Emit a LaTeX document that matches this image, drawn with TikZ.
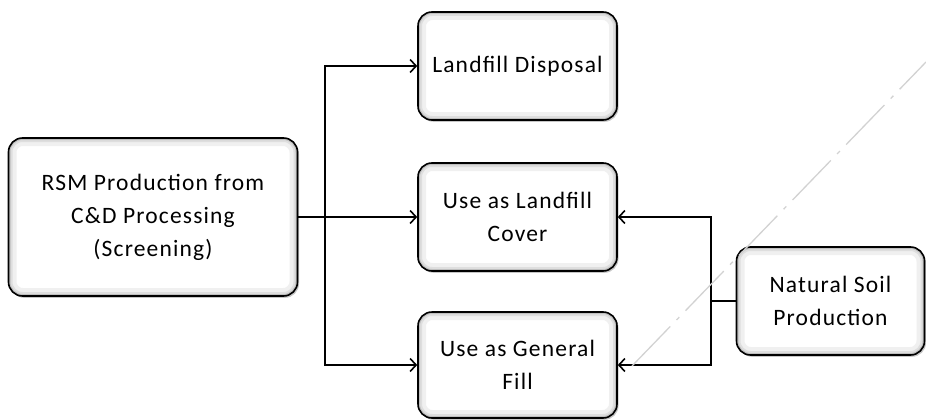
\documentclass[tikz,border=0pt]{standalone}
\usepackage{fontspec}
\setmainfont{Carlito}[LetterSpace=5]
\usetikzlibrary{arrows.meta,shadows}
\begin{document}
\begin{tikzpicture}[x=1pt,y=-1pt,
  box/.style={draw, line width=1.6pt, rounded corners=14pt, fill=white,
    align=center, inner sep=2pt,
    font=\fontsize{23.5}{33}\selectfont,
    drop shadow={shadow xshift=1.5pt, shadow yshift=-1.8pt, opacity=0.45},
    path picture={
      \draw[black!6, line width=16pt, rounded corners=14pt] (path picture bounding box.south west) rectangle (path picture bounding box.north east);
      \draw[black!13, line width=8pt, rounded corners=14pt] (path picture bounding box.south west) rectangle (path picture bounding box.north east);
      \draw[black!25, line width=4pt, rounded corners=14pt] (path picture bounding box.south west) rectangle (path picture bounding box.north east);
    }},
  conn/.style={line width=1.6pt},
  arr/.style={line width=1.6pt, -{Straight Barb[length=6pt,width=13pt,line width=1.6pt]}}]
\useasboundingbox (0,0) rectangle (926,420);
\node[box, minimum width=289pt, minimum height=158pt] (rsm) at (153,217) {RSM Production from\\C\&D Processing\\(Screening)};
\node[box, minimum width=199pt, minimum height=108pt] (ld) at (517.5,66) {Landfill Disposal};
\node[box, minimum width=199pt, minimum height=108pt] (cover) at (517.5,217) {Use as Landfill\\Cover};
\node[box, minimum width=199pt, minimum height=106pt] (fill) at (517.5,365) {Use as General\\Fill};
\node[box, minimum width=188pt, minimum height=108pt] (ns) at (830.5,301) {Natural Soil\\Production};
\coordinate (split) at (325,217);
\coordinate (join) at (711,301);
\draw[conn] (rsm.east) -- (split);
\draw[arr] (split) |- (ld.west);
\draw[arr] (split) -- (cover.west);
\draw[arr] (split) |- (fill.west);
\draw[conn] (ns.west) -- (join);
\draw[arr] (join) |- (cover.east);
\draw[arr] (join) |- (fill.east);
\draw[gray!35, line width=1.3pt, dash pattern=on 55pt off 9pt on 4pt off 9pt] (632,366) -- (926,62);
\end{tikzpicture}
\end{document}
